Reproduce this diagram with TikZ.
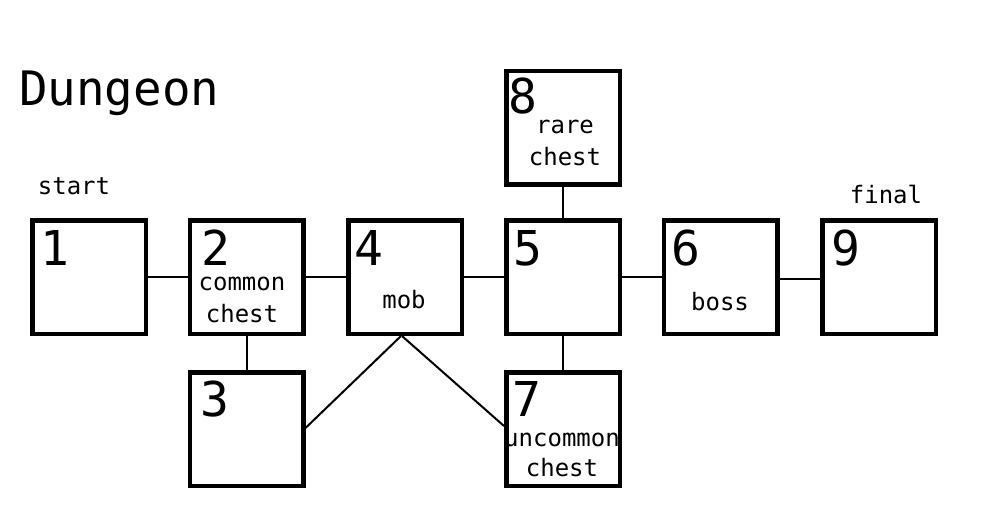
\documentclass[tikz,border=0pt]{standalone}
\usepackage{fontspec}
\setmonofont{DejaVu Sans Mono}
\begin{document}
\begin{tikzpicture}[x=1pt,y=-1pt,
  room/.style={draw,line width=4.5pt,minimum size=113.5pt,inner sep=0pt},
  link/.style={line width=2pt},
  num/.style={font=\fontsize{48}{48}\selectfont\ttfamily,anchor=base west,inner sep=0pt},
  lbl/.style={font=\fontsize{24}{24}\selectfont\ttfamily,anchor=base,inner sep=0pt}]
\useasboundingbox[fill=white] (0,0) rectangle (985,523);
% rooms
\node[room] (b1) at (89,277) {};
\node[room] (b2) at (246.5,277) {};
\node[room] (b4) at (405,277) {};
\node[room] (b5) at (563,277) {};
\node[room] (b6) at (720.5,277) {};
\node[room] (b9) at (879,277) {};
\node[room] (b8) at (563,127.5) {};
\node[room] (b3) at (246.5,429) {};
\node[room] (b7) at (563,429) {};
% connectors
\draw[link] (b1.east) -- (b2.west);
\draw[link] (b2.east) -- (b4.west);
\draw[link] (b4.east) -- (b5.west);
\draw[link] (b5.east) -- (b6.west);
\draw[link] ([yshift=-2pt]b6.east) -- ([yshift=-2pt]b9.west);
\draw[link] (b2.south) -- (b3.north);
\draw[link] (b5.north) -- (b8.south);
\draw[link] (b5.south) -- (b7.north);
\draw[link] ([xshift=-4pt]b4.south) -- ([yshift=1pt]b3.east);
\draw[link] ([xshift=-3pt]b4.south) -- ([yshift=3pt]b7.west);
% title and side labels
\node[font=\fontsize{47.5}{47.5}\selectfont\ttfamily,anchor=base west,inner sep=0pt] (title) at (19,105) {Dungeon};
\node[lbl] (start) at (74,194) {start};
\node[lbl] (final) at (886,203) {final};
% numbers
\node[num] (n1) at (40,265) {1};
\node[num] (n2) at (201,265) {2};
\node[num] (n4) at (354,265) {4};
\node[num] (n5) at (513,265) {5};
\node[num] (n6) at (671,265) {6};
\node[num] (n9) at (831,265) {9};
\node[num] (n8) at (508,113) {8};
\node[num] (n3) at (200,416) {3};
\node[num] (n7) at (512,416) {7};
% room texts
\node[lbl] (t2a) at (242,290) {common};
\node[lbl] (t2b) at (242,322) {chest};
\node[lbl] (t4) at (404,308) {mob};
\node[lbl] (t6) at (720,310) {boss};
\node[lbl] (t8a) at (565,133) {rare};
\node[lbl] (t8b) at (565,165) {chest};
\node[lbl] (t7a) at (562,446) {uncommon};
\node[lbl] (t7b) at (562,476) {chest};
\end{tikzpicture}
\end{document}
